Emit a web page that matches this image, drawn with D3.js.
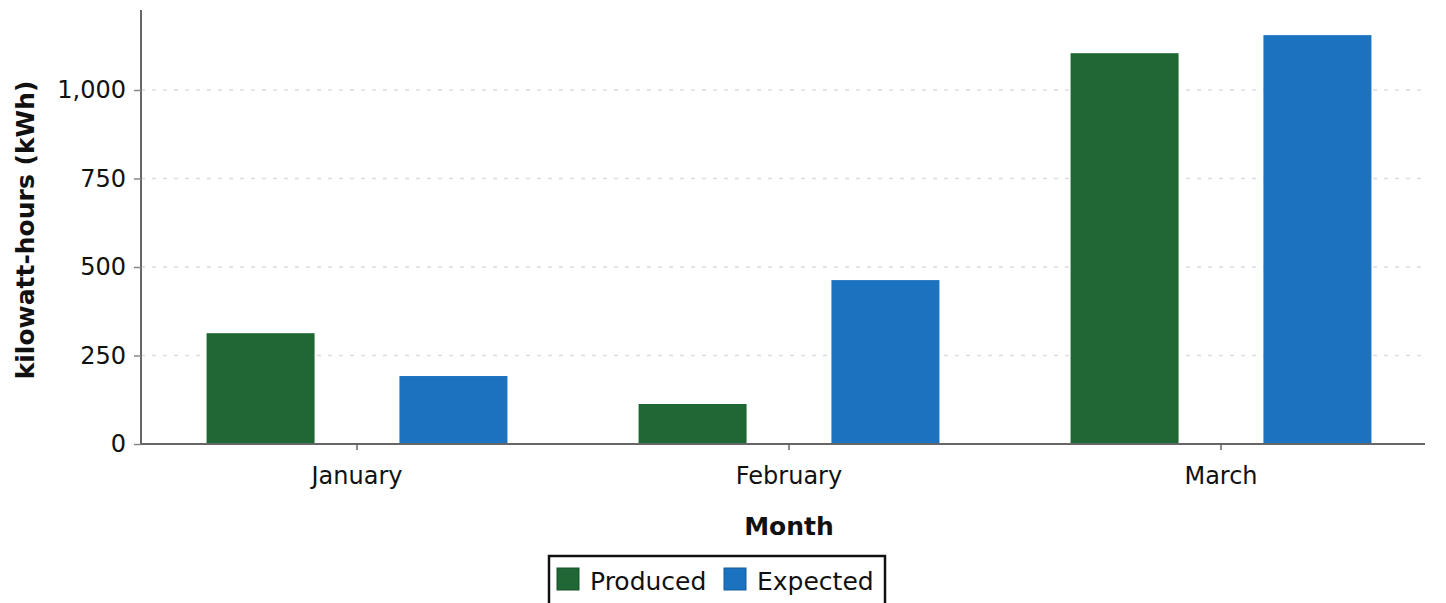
<!DOCTYPE html>
<html>
<head>
<meta charset="utf-8">
<script src="https://cdn.jsdelivr.net/npm/d3@7"></script>
<style>
  body { margin: 0; background: #fff; }
  svg { display: block; }
  svg text { font-family: "DejaVu Sans", Verdana, sans-serif; }
</style>
</head>
<body>
<svg id="chart" width="1446" height="603"></svg>
<script>
// data
const months = ['January', 'February', 'March'];
const seriesNames = ['Produced', 'Expected'];
const produced = [313, 113, 1104];
const expected = [192, 463, 1155];
const yTicks = [0, 250, 500, 750, 1000];
const colors = ['#1f6734', '#1b72bf'];

const W = 1446, H = 603;
const margin = { top: 10, right: 9, bottom: 159, left: 141 };
const plotW = W - margin.left - margin.right;
const plotH = H - margin.top - margin.bottom;
const FONT = '"DejaVu Sans", Verdana, sans-serif';

const svg = d3.select('#chart');
const g = svg.append('g').attr('transform', `translate(${margin.left},${margin.top})`);

const x = d3.scaleBand().domain(months).range([0, plotW]);
const xInner = d3.scaleBand().domain(seriesNames).range([0, x.bandwidth()])
  .paddingInner(0.44).paddingOuter(0.34);
const y = d3.scaleLinear().domain([0, 1226]).range([plotH, 0]);

// grid
g.append('g').selectAll('line').data(yTicks.filter(d => d > 0)).enter().append('line')
  .attr('x1', 0).attr('x2', plotW - 12)
  .attr('y1', d => y(d)).attr('y2', d => y(d))
  .attr('stroke', '#dcdcdc').attr('stroke-width', 1.5).attr('stroke-dasharray', '4,7');

// bars
const rows = months.map((m, i) => ({ month: m, values: [produced[i], expected[i]] }));
const groups = g.selectAll('.grp').data(rows).enter().append('g')
  .attr('class', 'grp')
  .attr('transform', d => `translate(${x(d.month)},0)`);
groups.selectAll('rect').data(d => d.values.map((v, k) => ({ key: seriesNames[k], v, k })))
  .enter().append('rect')
  .attr('x', d => xInner(d.key))
  .attr('y', d => y(d.v))
  .attr('width', xInner.bandwidth())
  .attr('height', d => y(0) - y(d.v))
  .attr('fill', d => colors[d.k]);

// axes
const yAxis = d3.axisLeft(y).tickValues(yTicks).tickSize(7).tickPadding(8)
  .tickFormat(d3.format(','));
const gy = g.append('g').call(yAxis).attr('font-family', FONT);
gy.select('.domain').attr('stroke', '#666').attr('stroke-width', 2).attr('d', `M0,0V${plotH}`);
gy.selectAll('.tick line').attr('stroke', '#888').attr('stroke-width', 1.5);
gy.selectAll('.tick text').attr('font-size', 24).attr('fill', '#111');

const xAxis = d3.axisBottom(x).tickSize(6).tickPadding(17);
const gx = g.append('g').attr('transform', `translate(0,${plotH})`).call(xAxis).attr('font-family', FONT);
gx.select('.domain').attr('stroke', '#666').attr('stroke-width', 2).attr('d', `M0,0H${plotW - 12}`);
gx.selectAll('.tick line').attr('stroke', '#666').attr('stroke-width', 1.5);
gx.selectAll('.tick text').attr('font-size', 24).attr('fill', '#111');

// axis titles
svg.append('text')
  .attr('transform', `translate(34,230) rotate(-90)`)
  .attr('text-anchor', 'middle').attr('font-size', 25).attr('font-weight', 'bold')
  .attr('fill', '#111').text('kilowatt-hours (kWh)');
svg.append('text')
  .attr('x', margin.left + x('February') + x.bandwidth() / 2).attr('y', 535)
  .attr('text-anchor', 'middle').attr('font-size', 25).attr('font-weight', 'bold')
  .attr('fill', '#111').text('Month');

// legend
const leg = svg.append('g').attr('transform', 'translate(549,556)');
leg.append('rect').attr('width', 336).attr('height', 52)
  .attr('fill', '#fff').attr('stroke', '#111').attr('stroke-width', 2.5);
const legX = [8, 175];
seriesNames.forEach((s, i) => {
  leg.append('rect').attr('x', legX[i]).attr('y', 12).attr('width', 22).attr('height', 22)
    .attr('fill', colors[i]).attr('stroke', d3.color(colors[i]).darker(0.6)).attr('stroke-width', 1);
  leg.append('text').attr('x', legX[i] + 33).attr('y', 34)
    .attr('font-size', 25).attr('fill', '#111').text(s);
});
</script>
</body>
</html>
